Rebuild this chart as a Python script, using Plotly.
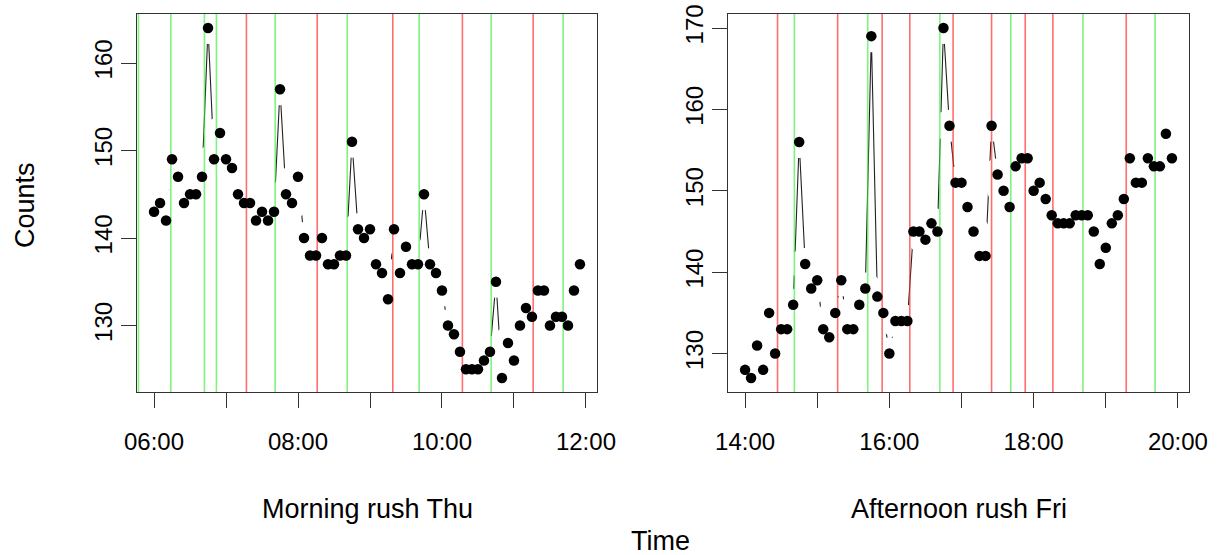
import pandas as pd
import plotly.graph_objects as go

# ---------------- data ----------------
morning_counts = [143, 144, 142, 149, 147, 144, 145, 145, 147, 164, 149, 152,
                  149, 148, 145, 144, 144, 142, 143, 142, 143, 157, 145, 144,
                  147, 140, 138, 138, 140, 137, 137, 138, 138, 151, 141, 140,
                  141, 137, 136, 133, 141, 136, 139, 137, 137, 145, 137, 136,
                  134, 130, 129, 127, 125, 125, 125, 126, 127, 135, 124, 128,
                  126, 130, 132, 131, 134, 134, 130, 131, 131, 130, 134, 137]
afternoon_counts = [128, 127, 131, 128, 135, 130, 133, 133, 136, 156, 141, 138,
                    139, 133, 132, 135, 139, 133, 133, 136, 138, 169, 137, 135,
                    130, 134, 134, 134, 145, 145, 144, 146, 145, 170, 158, 151,
                    151, 148, 145, 142, 142, 158, 152, 150, 148, 153, 154, 154,
                    150, 151, 149, 147, 146, 146, 146, 147, 147, 147, 145, 141,
                    143, 146, 147, 149, 154, 151, 151, 154, 153, 153, 157, 154]

morning_day = "2015-06-04"    # Thursday
afternoon_day = "2015-06-05"  # Friday
morning_start = "06:00"
afternoon_start = "14:00"
interval = "5min"

morning_green = ["05:47", "06:14", "06:42", "06:52", "07:41", "08:41", "09:41", "10:41", "11:41"]
morning_red = ["07:17", "08:16", "09:19", "10:17", "11:16"]
afternoon_green = ["14:41", "15:42", "16:42", "17:41", "18:41", "19:41"]
afternoon_red = ["14:27", "15:17", "15:54", "16:17", "16:53", "17:25", "17:53", "18:16", "19:17"]

morning_tick_hours = ["06:00", "07:00", "08:00", "09:00", "10:00", "11:00", "12:00"]
morning_tick_text = ["06:00", "", "08:00", "", "10:00", "", "12:00"]
afternoon_tick_hours = ["14:00", "15:00", "16:00", "17:00", "18:00", "19:00", "20:00"]
afternoon_tick_text = ["14:00", "", "16:00", "", "18:00", "", "20:00"]

y_tick_left = [130, 140, 150, 160]
y_tick_right = [130, 140, 150, 160, 170]

panel_titles = ["Morning rush Thu", "Afternoon rush Fri"]

# ---------------- style ----------------
FONT = "Liberation Sans, Arial, Helvetica, sans-serif"
TICK_SIZE = 24
TITLE_SIZE = 27
GREEN = "rgba(60,235,60,0.65)"
RED = "rgba(255,40,40,0.68)"
W, H = 1224, 555
panels = [
    dict(day=morning_day, start=morning_start, counts=morning_counts,
         green=morning_green, red=morning_red, ticks=morning_tick_hours,
         ticktext=morning_tick_text, yticks=y_tick_left,
         dom=(137 / W, 597 / W)),
    dict(day=afternoon_day, start=afternoon_start, counts=afternoon_counts,
         green=afternoon_green, red=afternoon_red, ticks=afternoon_tick_hours,
         ticktext=afternoon_tick_text, yticks=y_tick_right,
         dom=(728 / W, 1189 / W)),
]
ydom = (1 - 392 / H, 1 - 14 / H)

fig = go.Figure()

for i, p in enumerate(panels):
    xa = "x" if i == 0 else "x2"
    ya = "y" if i == 0 else "y2"
    times = pd.date_range(f"{p['day']} {p['start']}", periods=len(p["counts"]), freq=interval)
    counts = p["counts"]

    # connecting line (type="b" style: gaps around points)
    fig.add_trace(go.Scatter(x=times, y=counts, mode="lines", xaxis=xa, yaxis=ya,
                             line=dict(color="#222", width=1.1), hoverinfo="skip",
                             showlegend=False))
    # white halo producing the gaps
    fig.add_trace(go.Scatter(x=times, y=counts, mode="markers", xaxis=xa, yaxis=ya,
                             marker=dict(color="white", size=32, line=dict(width=0)),
                             hoverinfo="skip", showlegend=False))
    # vertical reference lines
    for lst, col in ((p["green"], GREEN), (p["red"], RED)):
        xs, ys = [], []
        for t in lst:
            ts = pd.Timestamp(f"{p['day']} {t}")
            xs += [ts, ts, None]
            ys += [0, 1000, None]
        fig.add_trace(go.Scatter(x=xs, y=ys, mode="lines", xaxis=xa, yaxis=ya,
                                 line=dict(color=col, width=1.6), hoverinfo="skip",
                                 showlegend=False))
    # points
    fig.add_trace(go.Scatter(x=times, y=counts, mode="markers", xaxis=xa, yaxis=ya,
                             marker=dict(color="black", size=10.5, line=dict(width=0)),
                             showlegend=False))

    span = times[-1] - times[0]
    xr = [times[0] - 0.04 * span, times[-1] + 0.04 * span]
    ymin, ymax = min(counts), max(counts)
    yr = [ymin - 0.04 * (ymax - ymin), ymax + 0.04 * (ymax - ymin)]

    axis_common = dict(showline=True, mirror=True, linecolor="#333", linewidth=1.3,
                       ticks="outside", ticklen=15, tickwidth=1.3, tickcolor="#333",
                       showgrid=False, zeroline=False, automargin=False,
                       tickfont=dict(family=FONT, size=TICK_SIZE, color="black"))
    xkey = "xaxis" if i == 0 else "xaxis2"
    ykey = "yaxis" if i == 0 else "yaxis2"
    fig.update_layout(**{
        xkey: dict(axis_common, domain=list(p["dom"]), anchor=ya, type="date",
                   range=xr,
                   tickvals=[pd.Timestamp(f"{p['day']} {h}") for h in p["ticks"]],
                   ticktext=p["ticktext"], ticklabelstandoff=13),
        ykey: dict(axis_common, domain=list(ydom), anchor=xa, range=yr,
                   tickvals=p["yticks"], ticktext=[str(v) for v in p["yticks"]],
                   tickangle=-90, ticklabelstandoff=-1),
    })
    fig.add_annotation(text=panel_titles[i], x=(p["dom"][0] + p["dom"][1]) / 2,
                       y=1 - 509 / H, xref="paper", yref="paper", showarrow=False,
                       xanchor="center", yanchor="middle",
                       font=dict(family=FONT, size=TITLE_SIZE, color="black"))

fig.add_annotation(text="Time", x=660 / W, y=1 - 541 / H, xref="paper", yref="paper",
                   showarrow=False, xanchor="center", yanchor="middle",
                   font=dict(family=FONT, size=TITLE_SIZE, color="black"))
fig.add_annotation(text="Counts", x=25 / W, y=1 - 205 / H, xref="paper", yref="paper",
                   showarrow=False, xanchor="center", yanchor="middle", textangle=-90,
                   font=dict(family=FONT, size=TITLE_SIZE, color="black"))

fig.update_layout(width=W, height=H, margin=dict(l=0, r=0, t=0, b=0, pad=0),
                  paper_bgcolor="white", plot_bgcolor="white")

fig.write_html("out.html", config={"responsive": False, "displayModeBar": False},
               post_script="document.body.style.margin='0';document.body.style.overflow='hidden';")
